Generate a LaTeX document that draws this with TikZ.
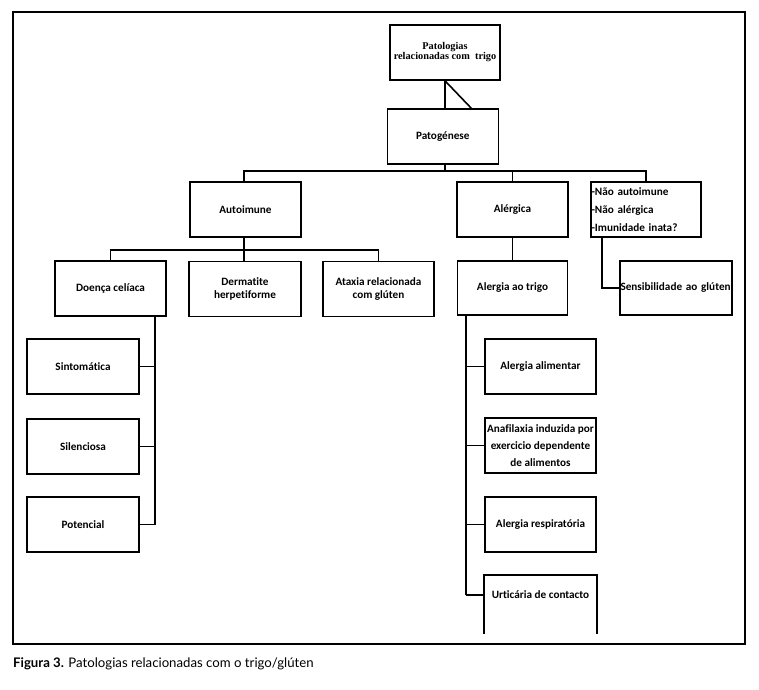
\documentclass[tikz,border=0pt]{standalone}
\usepackage{fontspec}
\setmainfont[Ligatures={NoCommon}]{Carlito}
\newfontfamily\serifb{Liberation Serif}
\newfontfamily\capfont{Lato}
\usetikzlibrary{calc}
\tikzset{
  box/.style={draw, line width=1.6pt, minimum width=111pt, minimum height=55pt, inner sep=1pt, align=center, font=\bfseries\fontsize{11.2}{13}\selectfont},
  conn/.style={line width=1.6pt},
}
\begin{document}
\begin{tikzpicture}[x=1pt,y=-1pt]
\useasboundingbox (0,0) rectangle (759,689);
\draw[line width=1.4pt] (13,12) rectangle (745,644);
% top
\node[box, minimum width=110pt, font=\serifb\bfseries\fontsize{10.3}{11}\selectfont] (top) at (445,52.5) {Patologias\\[-1pt]relacionadas com\ \ trigo};
\node[box] (pat) at (442.8,136.5) {Patogénese};
\coordinate (diag) at (472,109);
\draw[conn] (top.south) -- (top.south |- pat.north);
\draw[conn] (top.south) -- (diag);
% level 2
\node[box] (auto) at (245.5,209.5) {Autoimune};
\node[box] (alerg) at (512.5,209.5) {Alérgica};
\node[box, minimum width=110pt, align=left, text width=109pt, inner xsep=0pt, font=\bfseries\fontsize{11.2}{18}\selectfont] (nao) at (646,209.5) {\mbox{-Não autoimune}\\\mbox{-Não alérgica}\\\mbox{-Imunidade inata?}};
\coordinate (bar1) at (445,171);
\draw[conn] (pat.south -| top.south) -- (bar1);
\draw[conn] (auto.north -| 244,0) -- (244,171) -- (646,171) -- (nao.north);
\draw[conn] (alerg.north) -- (alerg.north |- bar1);
% level 3
\node[box] (doenca) at (110.5,288.5) {Doença celíaca};
\node[box, minimum width=112pt] (derm) at (245,289) {Dermatite\\herpetiforme};
\node[box] (ataxia) at (378.5,289) {Ataxia relacionada\\com glúten};
\node[box, minimum width=110pt, minimum height=54pt] (trigo) at (512.5,288) {Alergia ao trigo};
\node[box, minimum width=112pt, minimum height=54pt, align=left, text width=111pt, inner xsep=0pt] (sens) at (676,288) {\mbox{Sensibilidade ao glúten}};
\draw[conn] (auto.south -| 244,0) -- (244,250);
\draw[conn] (doenca.north) -- (doenca.north |- 0,250) -- (ataxia.north |- 0,250) -- (ataxia.north);
\draw[conn] (derm.north -| 244,0) -- (244,250);
\draw[conn] (alerg.south) -- (trigo.north);
\draw[conn] (nao.south -| 602,0) -- (602,288) -- (sens.west);
% celiac
\node[box, minimum width=112pt] (sint) at (83,366.5) {Sintomática};
\node[box, minimum width=112pt] (sil) at (83,446.5) {Silenciosa};
\node[box, minimum width=112pt] (pot) at (83,524.5) {Potencial};
\draw[conn] (doenca.south -| 155,0) -- (155,524.5);
\draw[conn] (sint.east) -- (sint.east -| 155,0);
\draw[conn] (sil.east) -- (sil.east -| 155,0);
\draw[conn] (pot.east) -- (pot.east -| 155,0);
% allergy
\node[box] (alim) at (540.5,366.5) {Alergia alimentar};
\node[box, font=\bfseries\fontsize{11.2}{17}\selectfont] (anaf) at (540.5,445.5) {Anafilaxia induzida por\\exercicio dependente\\de alimentos};
\node[box] (resp) at (540.5,524.5) {Alergia respiratória};
\node[box, draw=none, minimum height=57pt] (urt) at (540.5,604.5) {};
\node[font=\bfseries\fontsize{11.2}{13}\selectfont] (urtl) at (540.5,595) {Urticária de contacto};
\draw[conn] (urt.south west) -- (urt.north west) -- (urt.north east) -- (urt.south east);
\draw[conn] (trigo.south -| 466,0) -- (466,595);
\draw[conn] (alim.west) -- (alim.west -| 466,0);
\draw[conn] (anaf.west) -- (anaf.west -| 466,0);
\draw[conn] (resp.west) -- (resp.west -| 466,0);
\draw[conn] (466,595) -- (urt.west |- urtl);
% caption
\node[anchor=base west, inner sep=0, font=\capfont\fontsize{13.2}{15}\selectfont] (cap) at (13,667) {\textbf{Figura 3.} Patologias relacionadas com o trigo/glúten};
\end{tikzpicture}
\end{document}
